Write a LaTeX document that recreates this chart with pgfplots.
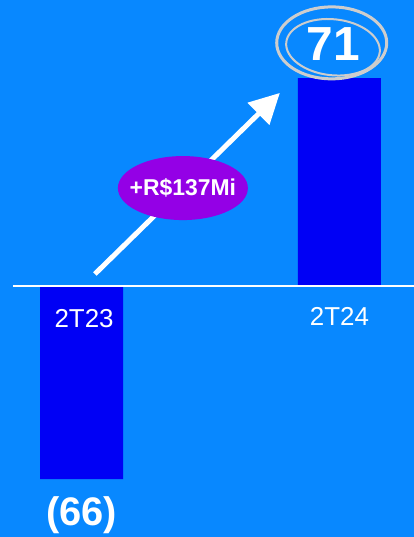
\documentclass[border=0pt]{standalone}
\usepackage{pgfplots}
\pgfplotsset{compat=1.18}
\usepackage{fontspec}
\setmainfont{Liberation Sans}
\usetikzlibrary{arrows.meta}
\definecolor{bg}{RGB}{8,136,255}
\definecolor{barblue}{RGB}{0,0,245}
\definecolor{purp}{RGB}{148,0,230}
\definecolor{ring}{RGB}{205,205,205}
\begin{document}
\begin{tikzpicture}
\fill[bg] (0,0) rectangle (414bp,537bp);
\useasboundingbox (0,0) rectangle (414bp,537bp);
\begin{axis}[
  at={(0,0)}, anchor=south west,
  scale only axis, width=414bp, height=537bp,
  xmin=-0.316, xmax=1.289, ymin=-85.8, ymax=97.65,
  axis line style={draw=none}, ticks=none,
  clip=false,
]
\addplot[ybar, bar width=83bp, fill=barblue, draw=none] coordinates {(0,-66) (1,71)};
\draw[white, line width=1.5bp] (axis cs:-0.266,0) -- (axis cs:1.289,0);
\node[white, font=\fontsize{26}{30}\selectfont] at (axis cs:0.01,-11.3) {2T23};
\node[white, font=\fontsize{26}{30}\selectfont] at (axis cs:1.0,-10.6) {2T24};
\node[white, font=\bfseries\fontsize{40}{46}\selectfont] at (axis cs:0,-78.3) {(66)};
\node[white, font=\bfseries\fontsize{48}{54}\selectfont] at (axis cs:0.975,82.5) {71};
\draw[ring, line width=3bp] (axis cs:0.97,83) ellipse [x radius=55bp, y radius=36bp];
\draw[ring, line width=2bp] (axis cs:0.975,81.5) ellipse [x radius=47bp, y radius=28bp, rotate=-6];
\draw[white, line width=5bp, -{Triangle[width=30bp,length=30bp]}] (axis cs:0.052,4.05) -- (axis cs:0.769,65.9);
\fill[purp] (axis cs:0.393,33.4) ellipse [x radius=65bp, y radius=32bp];
\node[white, font=\bfseries\fontsize{23}{28}\selectfont] at (axis cs:0.393,33.4) {+R\$137Mi};
\end{axis}
\end{tikzpicture}
\end{document}
